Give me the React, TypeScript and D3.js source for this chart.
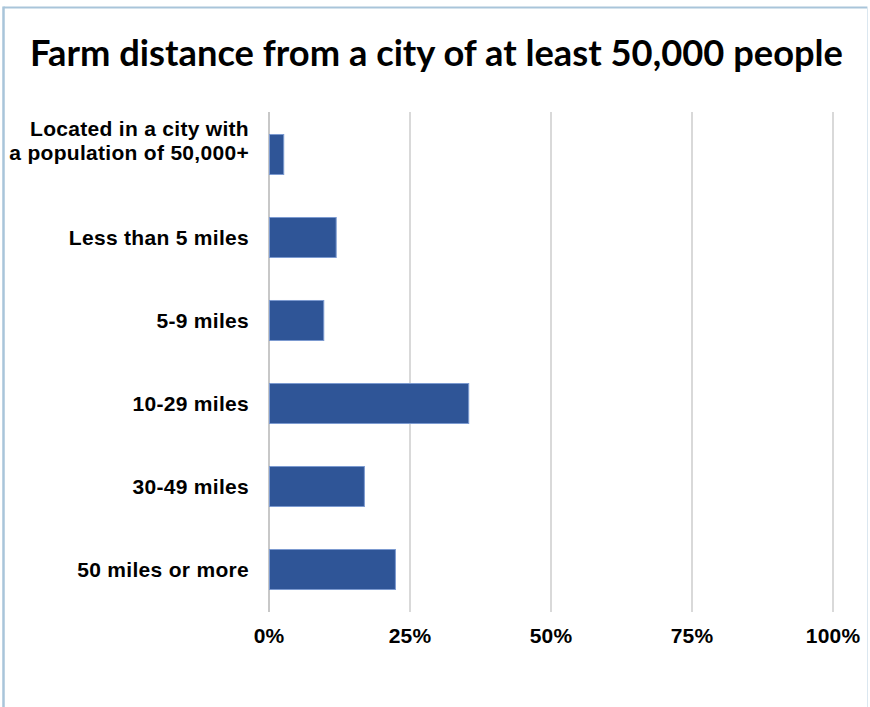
import React, { useEffect, useRef } from 'react';
import * as d3 from 'd3';

const categories: string[][] = [
  ['Located in a city with', 'a population of 50,000+'],
  ['Less than 5 miles'],
  ['5-9 miles'],
  ['10-29 miles'],
  ['30-49 miles'],
  ['50 miles or more'],
];
const shares = [0.027, 0.12, 0.098, 0.355, 0.17, 0.225];
const ticks = [0, 0.25, 0.5, 0.75, 1];
const title = 'Farm distance from a city of at least 50,000 people';

const W = 870;
const H = 707;

const App: React.FC = () => {
  const svgRef = useRef<SVGSVGElement>(null);

  useEffect(() => {
    if (!svgRef.current) return;
    const svg = d3.select(svgRef.current);
    svg.selectAll('*').remove();

    const margin = { top: 112, right: 37.5, bottom: 95, left: 268.5 };
    const keys = categories.map(c => c.join(' '));

    const x = d3.scaleLinear().domain([0, 1]).range([margin.left, W - margin.right]);
    const y = d3.scaleBand<string>()
      .domain(keys)
      .range([margin.top, H - margin.bottom])
      .paddingInner(0.518)
      .paddingOuter(0.271);

    // frame
    svg.append('rect').attr('width', W).attr('height', H).attr('fill', '#fff');
    svg.append('line').attr('x1', 3.5).attr('x2', 867).attr('y1', 7.5).attr('y2', 7.5)
      .attr('stroke', '#a9c5da').attr('stroke-width', 2);
    svg.append('line').attr('x1', 3.5).attr('x2', 3.5).attr('y1', 6.5).attr('y2', H)
      .attr('stroke', '#a9c5da').attr('stroke-width', 2.5);
    svg.append('line').attr('x1', 867.5).attr('x2', 867.5).attr('y1', 6.5).attr('y2', H)
      .attr('stroke', '#dbe7f0').attr('stroke-width', 1);

    // title
    svg.append('text')
      .attr('x', 30).attr('y', 66)
      .attr('textLength', 813).attr('lengthAdjust', 'spacingAndGlyphs')
      .attr('font-family', 'Lato, "Open Sans", sans-serif')
      .attr('font-weight', 700).attr('font-size', 36)
      .attr('fill', '#000')
      .text(title);

    // gridlines + tick labels
    const xAxis = svg.append('g')
      .attr('transform', `translate(0,${H - margin.bottom})`)
      .call(d3.axisBottom(x).tickValues(ticks).tickSize(-(H - margin.top - margin.bottom))
        .tickFormat(d => `${Math.round(+d * 100)}%`));
    xAxis.select('.domain').remove();
    xAxis.selectAll('.tick line')
      .attr('stroke', (d: any) => (d === 0 ? '#c8c8c8' : '#d9d9d9'))
      .attr('stroke-width', 2);
    xAxis.selectAll('.tick text')
      .attr('y', 31)
      .attr('dy', 0)
      .attr('font-family', '"Liberation Sans", Arial, sans-serif')
      .attr('font-weight', 700).attr('font-size', 21)
      .attr('letter-spacing', 0.2)
      .attr('fill', '#000');

    // bars
    svg.append('g').selectAll('rect')
      .data(shares)
      .join('rect')
      .attr('x', x(0) + 1)
      .attr('y', (_, i) => y(keys[i])!)
      .attr('width', d => x(d) - x(0) - 1)
      .attr('height', y.bandwidth())
      .attr('fill', '#2f5597')
      .attr('stroke', '#7c9ad0')
      .attr('stroke-width', 1);

    // category labels
    const labels = svg.append('g')
      .attr('font-family', '"Liberation Sans", Arial, sans-serif')
      .attr('font-weight', 700).attr('font-size', 21)
      .attr('letter-spacing', 0.3)
      .attr('text-anchor', 'end').attr('fill', '#000');
    categories.forEach((lines, i) => {
      const cy = y(keys[i])! + y.bandwidth() / 2;
      const t = labels.append('text').attr('x', 249);
      if (lines.length === 1) {
        t.attr('y', cy + 7.5).text(lines[0]);
      } else {
        lines.forEach((l, j) => {
          t.append('tspan').attr('x', 249).attr('y', cy - 18 + j * 23.5).text(l);
        });
      }
    });
  }, []);

  return (
    <svg ref={svgRef} width={W} height={H}
      style={{ position: 'absolute', left: 0, top: 0, display: 'block' }} />
  );
};

export default App;
